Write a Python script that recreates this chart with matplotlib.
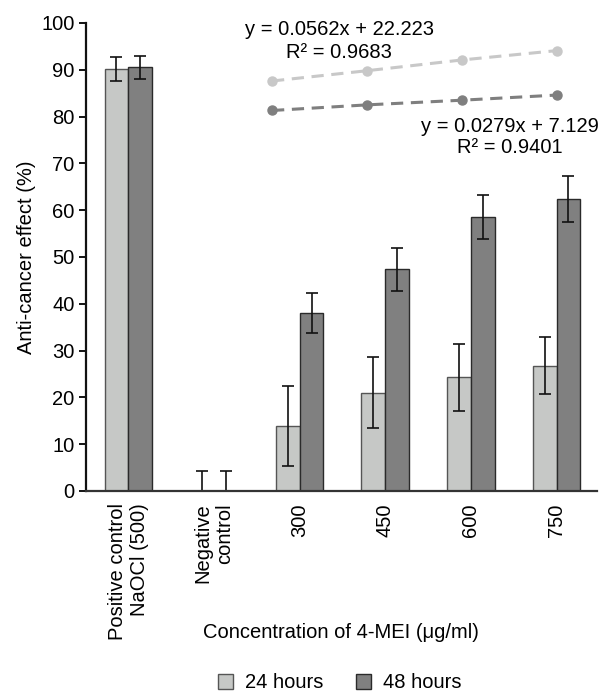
import matplotlib
matplotlib.use("Agg")
import matplotlib.pyplot as plt
import numpy as np
from matplotlib.patches import Patch

plt.rcParams['font.family'] = ['Liberation Sans', 'DejaVu Sans']

categories = ["Positive control\nNaOCl (500)", "Negative\ncontrol", "300", "450", "600", "750"]
h24 = [90.2, 0.0, 13.9, 21.0, 24.3, 26.8]
h24_err = [2.5, 4.3, 8.5, 7.6, 7.2, 6.0]
h48 = [90.5, 0.0, 38.1, 47.4, 58.6, 62.3]
h48_err = [2.4, 4.3, 4.3, 4.6, 4.7, 4.9]

trend_conc = [300, 450, 600, 750]
trend24 = [87.6, 89.8, 92.1, 94.1]
trend48 = [81.3, 82.5, 83.5, 84.6]

light = "#c6c8c6"
dark = "#808080"
FS = 14.5

fig = plt.figure(figsize=(6.04, 6.92), dpi=100)
ax = fig.add_axes([0.1419, 0.2905, 0.988 - 0.1419, 0.9668 - 0.2905])

x = np.arange(len(categories))
w = 0.278
ekw = dict(ecolor="#111111", elinewidth=1.2, capsize=4, capthick=1.2)
ax.bar(x - w / 2, h24, w, color=light, edgecolor="#555555", linewidth=1.0,
       yerr=h24_err, error_kw=ekw, zorder=2)
ax.bar(x + w / 2, h48, w, color=dark, edgecolor="#2a2a2a", linewidth=1.0,
       yerr=h48_err, error_kw=ekw, zorder=2)

ax.set_xlim(-0.498, 5.47)
ax.set_ylim(0, 100)
ax.set_yticks(np.arange(0, 101, 10))
ax.set_xticks(x)
ax.set_xticklabels(categories, rotation=90, va="top", ha="center",
                   multialignment="right", fontsize=FS)
ax.tick_params(axis="x", length=0, pad=9)
ax.tick_params(axis="y", length=5, width=1.3, pad=3, labelsize=FS, direction="out")
for s in ["top", "right"]:
    ax.spines[s].set_visible(False)
ax.spines["left"].set_linewidth(1.6)
ax.spines["left"].set_color("#111111")
ax.spines["bottom"].set_linewidth(1.6)
ax.spines["bottom"].set_color("#333333")

ax.set_ylabel("Anti-cancer effect (%)", fontsize=FS, labelpad=4)
fig.text(341 / 604, 1 - 632 / 692, "Concentration of 4-MEI (\u03bcg/ml)",
         ha="center", va="center", fontsize=FS)

# trend lines
ax2 = ax.twiny()
ax2.set_xlim(5.8, 812.7)
ax2.set_ylim(0, 100)
ax2.axis("off")
ax2.plot(trend_conc, trend24, color="#c8c8c8", linestyle=(0, (4, 2.5)), linewidth=2.2,
         marker="o", markersize=6.5, clip_on=False)
ax2.plot(trend_conc, trend48, color="#7f7f7f", linestyle=(0, (4, 2.5)), linewidth=2.2,
         marker="o", markersize=6.5, clip_on=False)

ax.text(2.46, 97.4, "y = 0.0562x + 22.223", ha="center", va="baseline", fontsize=FS)
ax.text(2.46, 92.5, "R\u00b2 = 0.9683", ha="center", va="baseline", fontsize=FS)
ax.text(4.46, 76.8, "y = 0.0279x + 7.129", ha="center", va="baseline", fontsize=FS)
ax.text(4.46, 72.2, "R\u00b2 = 0.9401", ha="center", va="baseline", fontsize=FS)

handles = [Patch(facecolor=light, edgecolor="#555555", linewidth=1.0, label="24 hours"),
           Patch(facecolor=dark, edgecolor="#2a2a2a", linewidth=1.0, label="48 hours")]
fig.legend(handles=handles, loc="center", bbox_to_anchor=(340 / 604, 1 - 683 / 692),
           ncol=2, frameon=False, fontsize=FS, handlelength=0.75, handleheight=0.75,
           handletextpad=0.6, columnspacing=1.6)

fig.savefig("out.png", dpi=100)
